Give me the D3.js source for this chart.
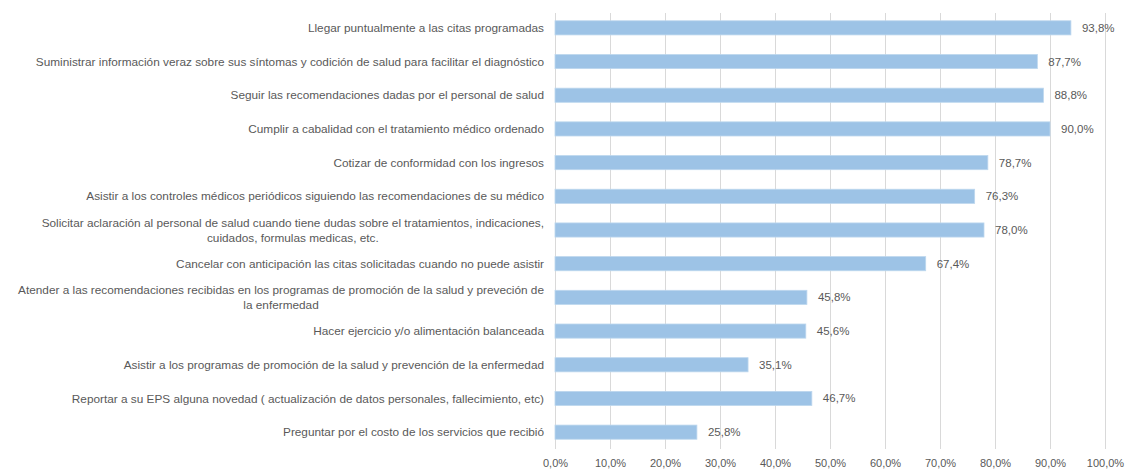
<!DOCTYPE html>
<html>
<head>
<meta charset="utf-8">
<title></title>
<style>
  body { margin: 0; background: #fff; }
  text { font-family: "Liberation Sans", Arial, sans-serif; fill: #595959; }
</style>
</head>
<body>
<script src="https://d3js.org/d3.v7.min.js"></script>
<script type="text/javascript">

var categories = [
  ["Llegar puntualmente a las citas programadas"],
  ["Suministrar información veraz sobre sus síntomas y codición de salud para facilitar el diagnóstico"],
  ["Seguir las recomendaciones dadas por el personal de salud"],
  ["Cumplir a cabalidad con el tratamiento médico ordenado"],
  ["Cotizar de conformidad con los ingresos"],
  ["Asistir a los controles médicos periódicos siguiendo las recomendaciones de su médico"],
  ["Solicitar aclaración al personal de salud cuando tiene dudas sobre el tratamientos, indicaciones,", "cuidados, formulas medicas, etc."],
  ["Cancelar con anticipación las citas solicitadas cuando no puede asistir"],
  ["Atender a las recomendaciones recibidas en los programas de promoción de la salud y preveción de", "la enfermedad"],
  ["Hacer ejercicio y/o alimentación balanceada"],
  ["Asistir a los programas de promoción de la salud y prevención de la enfermedad"],
  ["Reportar a su EPS alguna novedad ( actualización de datos personales, fallecimiento, etc)"],
  ["Preguntar por el costo de los servicios que recibió"]
];
var values = [0.938, 0.877, 0.888, 0.900, 0.787, 0.763, 0.780, 0.674, 0.458, 0.456, 0.351, 0.467, 0.258];
var ticks = [0, 0.1, 0.2, 0.3, 0.4, 0.5, 0.6, 0.7, 0.8, 0.9, 1.0];

var width = 1126,
    height = 470,
    plotLeft = 555, plotRight = 1105,
    plotTop = 11, plotBottom = 449;

var locale = d3.formatLocale({decimal: ",", thousands: ".", grouping: [3], currency: ["", "€"]});
var pct = locale.format(".1%");

var x = d3.scaleLinear().domain([0, 1]).range([plotLeft, plotRight]);
var y = d3.scaleBand().domain(d3.range(categories.length)).range([plotTop, plotBottom]).paddingInner(0.58).paddingOuter(0.29);

var svg = d3.select("body").append("svg").attr("width", width).attr("height", height);

// gridlines
svg.append("g").selectAll("line")
  .data(ticks)
  .enter().append("line")
  .attr("x1", function(d) { return Math.round(x(d)) + 0.5; })
  .attr("x2", function(d) { return Math.round(x(d)) + 0.5; })
  .attr("y1", plotTop + 2)
  .attr("y2", plotBottom)
  .style("stroke", "#d9d9d9")
  .style("stroke-width", 1);

// x axis labels
var xAxis = d3.axisBottom(x).tickValues(ticks).tickFormat(pct).tickSize(0).tickPadding(10);
var gx = svg.append("g").attr("transform", "translate(0," + plotBottom + ")").call(xAxis);
gx.select(".domain").remove();
gx.selectAll("text").style("font-size", "11px").style("fill", "#595959").style("font-family", "Liberation Sans, Arial, sans-serif");

// bars
svg.append("g").selectAll("rect")
  .data(values)
  .enter().append("rect")
  .attr("x", x(0))
  .attr("y", function(d, i) { return y(i); })
  .attr("width", function(d) { return x(d) - x(0); })
  .attr("height", y.bandwidth())
  .style("fill", "#9dc3e6")
  .style("stroke", "#bdd7ee")
  .style("stroke-width", 0.8);

// value labels
svg.append("g").selectAll("text")
  .data(values)
  .enter().append("text")
  .attr("x", function(d) { return x(d) + 11; })
  .attr("y", function(d, i) { return y(i) + y.bandwidth() / 2; })
  .attr("dy", "0.35em")
  .style("font-size", "11.5px")
  .text(function(d) { return pct(d); });

// category labels (right aligned block, wrapped lines centred like Excel)
var labelRight = 544, lineH = 15;
var lg = svg.append("g");
categories.forEach(function(lines, i) {
  var cy = y(i) + y.bandwidth() / 2;
  var t = lg.append("text").style("font-size", "11.8px");
  var spans = lines.map(function(s, k) {
    return t.append("tspan").attr("y", cy + (k - (lines.length - 1) / 2) * lineH).attr("dy", "0.35em").text(s);
  });
  var maxW = d3.max(spans, function(s) { return s.node().getComputedTextLength(); });
  if (lines.length > 1) {
    t.attr("text-anchor", "middle");
    spans.forEach(function(s) { s.attr("x", labelRight - maxW / 2); });
  } else {
    t.attr("text-anchor", "end");
    spans.forEach(function(s) { s.attr("x", labelRight); });
  }
});

</script>
</body>
</html>
